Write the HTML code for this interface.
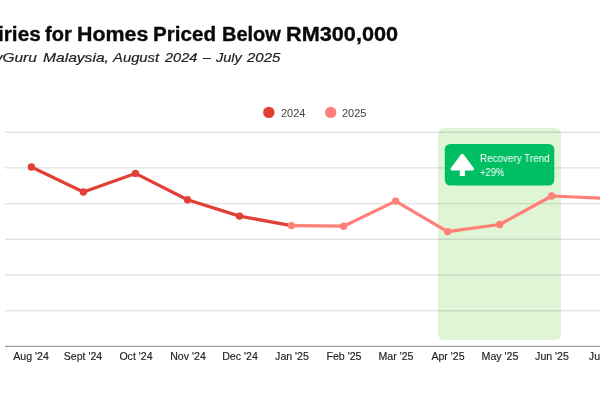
<!DOCTYPE html>
<html>
<head>
<meta charset="utf-8">
<style>
html,body{margin:0;padding:0;background:#fff;}
body{width:600px;height:400px;overflow:hidden;position:relative;font-family:"Liberation Sans",sans-serif;}
.t{position:absolute;white-space:nowrap;line-height:1;will-change:transform;}
.ti{font-weight:bold;font-size:20px;color:#0a0a0a;-webkit-text-stroke:0.35px #0a0a0a;top:24.2px;transform-origin:0 0;}
.su{font-style:italic;font-size:13px;color:#222;-webkit-text-stroke:0.2px #222;top:51.2px;transform-origin:0 0;}
.lg{font-size:11px;color:#444;top:107.6px;}
.bt{font-size:10px;color:#fff;transform-origin:0 0;}
.xl{font-size:10.6px;color:#222;-webkit-text-stroke:0.15px #222;top:351.2px;width:80px;text-align:center;}
svg{position:absolute;left:0;top:0;}
</style>
</head>
<body>
<svg width="600" height="400" viewBox="0 0 600 400">
  <!-- highlight region -->
  <rect x="438" y="128" width="123.2" height="212" rx="6" fill="#dff5d5"/>
  <!-- grid -->
  <g stroke="rgba(0,0,0,0.11)" stroke-width="1.4">
    <line x1="5" y1="132.2" x2="600" y2="132.2"/>
    <line x1="5" y1="167.9" x2="600" y2="167.9"/>
    <line x1="5" y1="203.6" x2="600" y2="203.6"/>
    <line x1="5" y1="239.3" x2="600" y2="239.3"/>
    <line x1="5" y1="275" x2="600" y2="275"/>
    <line x1="5" y1="310.7" x2="600" y2="310.7"/>
  </g>
  <line x1="5" y1="346.4" x2="600" y2="346.4" stroke="#9a9a9a" stroke-width="1.4"/>
  <!-- 2024 line -->
  <polyline fill="none" stroke="#e04036" stroke-width="3.2" stroke-linejoin="round"
    points="31.4,167 83.4,192 135.4,173.4 187.5,199.7 239.5,216.1 291.5,225.6"/>
  <g fill="#e04036">
    <circle cx="31.4" cy="167" r="3.7"/>
    <circle cx="83.4" cy="192" r="3.7"/>
    <circle cx="135.4" cy="173.4" r="3.7"/>
    <circle cx="187.5" cy="199.7" r="3.7"/>
    <circle cx="239.5" cy="216.1" r="3.7"/>
  </g>
  <!-- 2025 line -->
  <polyline fill="none" stroke="#ff8078" stroke-width="3.2" stroke-linejoin="round"
    points="291.5,225.6 343.6,226.2 395.6,201.1 447.6,231.6 499.7,224.5 551.7,196 603.7,198.3"/>
  <g fill="#ff8078">
    <circle cx="291.5" cy="225.6" r="3.7"/>
    <circle cx="343.6" cy="226.2" r="3.7"/>
    <circle cx="395.6" cy="201.1" r="3.7"/>
    <circle cx="447.6" cy="231.6" r="3.7"/>
    <circle cx="499.7" cy="224.5" r="3.7"/>
    <circle cx="551.7" cy="196" r="3.7"/>
    <circle cx="603.7" cy="198.3" r="3.7"/>
  </g>
  <!-- legend -->
  <circle cx="268.8" cy="112.4" r="5.7" fill="#e04036"/>
  <circle cx="330.7" cy="112.4" r="5.7" fill="#ff8078"/>
  <!-- badge -->
  <rect x="444.8" y="144" width="109.5" height="41.6" rx="5.5" fill="#00bf63"/>
  <path fill="#fff" stroke="#fff" stroke-width="3.4" stroke-linejoin="round" d="M462.3,155.6 L472.3,168.9 L452.3,168.9 Z"/>
  <rect x="459.8" y="168" width="5.2" height="8" fill="#fff"/>
</svg>
<div class="t ti" style="left:-54.1px;transform:scaleX(1.04)">Enquiries</div>
<div class="t ti" style="left:45px;">for</div>
<div class="t ti" style="left:77.4px;transform:scaleX(1.069)">Homes</div>
<div class="t ti" style="left:153.2px;transform:scaleX(1.031)">Priced</div>
<div class="t ti" style="left:222.2px;">Below</div>
<div class="t ti" style="left:286.4px;transform:scaleX(1.084)">RM300,000</div>
<div class="t su" style="left:-56.1px;transform:scaleX(1.19)">PropertyGuru</div>
<div class="t su" style="left:42.9px;transform:scaleX(1.2)">Malaysia,</div>
<div class="t su" style="left:112.5px;transform:scaleX(1.14)">August</div>
<div class="t su" style="left:165px;transform:scaleX(1.12)">2024</div>
<div class="t su" style="left:203.3px;transform:scaleX(1.07)">&ndash;</div>
<div class="t su" style="left:215.8px;transform:scaleX(1.11)">July</div>
<div class="t su" style="left:246.7px;transform:scaleX(1.15)">2025</div>
<div class="t lg" style="left:280.6px;">2024</div>
<div class="t lg" style="left:342px;">2025</div>
<div class="t bt" style="left:480.1px;top:153.9px;transform:scaleX(0.986)">Recovery Trend</div>
<div class="t bt" style="left:479.6px;top:167.5px;transform:scaleX(0.94)">+29%</div>
<div class="t xl" style="left:-8.6px;">Aug '24</div>
<div class="t xl" style="left:43.4px;">Sept '24</div>
<div class="t xl" style="left:95.5px;">Oct '24</div>
<div class="t xl" style="left:147.5px;">Nov '24</div>
<div class="t xl" style="left:199.5px;">Dec '24</div>
<div class="t xl" style="left:251.5px;">Jan '25</div>
<div class="t xl" style="left:303.6px;">Feb '25</div>
<div class="t xl" style="left:355.6px;">Mar '25</div>
<div class="t xl" style="left:407.6px;">Apr '25</div>
<div class="t xl" style="left:459.7px;">May '25</div>
<div class="t xl" style="left:511.7px;">Jun '25</div>
<div class="t xl" style="left:563.7px;">Jul '25</div>
</body>
</html>
